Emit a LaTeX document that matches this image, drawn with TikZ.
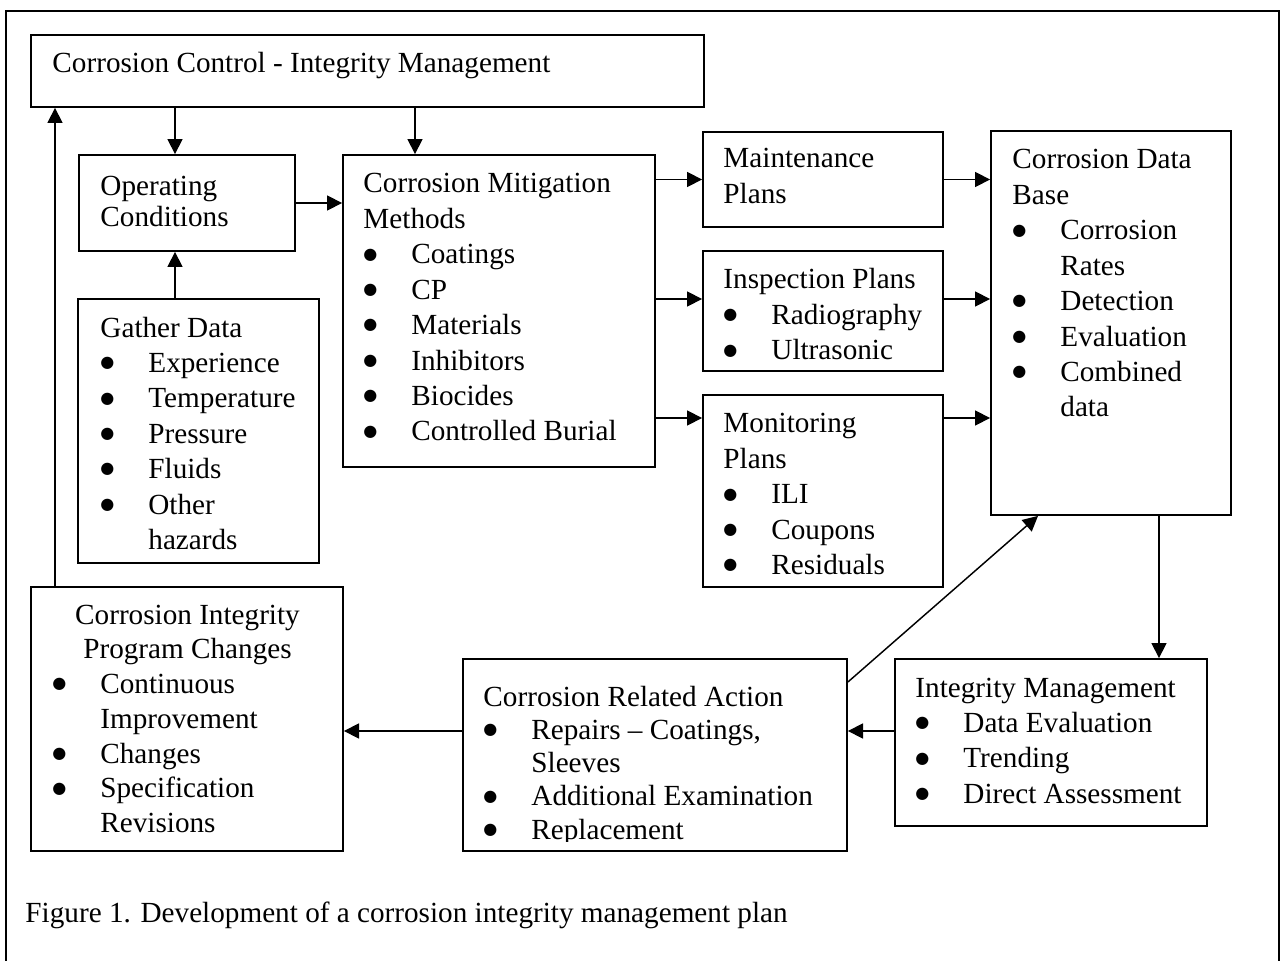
\documentclass[tikz,border=0pt]{standalone}
\usepackage{fontspec}
\setmainfont{Liberation Serif}
\newfontfamily\symfont{DejaVu Sans}
\usetikzlibrary{arrows.meta,fit}

% one drawing unit
\newlength\pxu
\setlength\pxu{0.411pt}
% bullet indent
\newlength\bind
\setlength\bind{19.7pt}
\newcommand\bmark{\raisebox{1.9pt}{\symfont\fontsize{6.6pt}{6.6pt}\selectfont ●}}
\newcommand\bitem[1]{\makebox[\bind][l]{\bmark}#1}
\newcommand\citem[1]{\hspace*{\bind}#1}

\begin{document}
\begin{tikzpicture}[x=\pxu, y=-\pxu,
  font=\fontsize{12pt}{14.55pt}\selectfont,
  box/.style={draw, line width=0.75pt, inner sep=0pt, rectangle},
  txt/.style={anchor=base west, inner sep=0pt, align=flush left, text width=220pt},
  arr/.style={-{Triangle[length=6.2pt,width=6.2pt]}, line width=0.6pt}]

\useasboundingbox (0,0) rectangle (1283,961);

% outer frame
\draw[line width=0.7pt] (6,961) -- (6,11) -- (1279,11) -- (1279,961);

% boxes
\node[box, fit={(31,35) (704,107)}] (top) {};
\node[box, fit={(79,155) (295,251)}] (opc) {};
\node[box, fit={(78,299) (319,563)}] (gd) {};
\node[box, fit={(343,155) (655,467)}] (cmm) {};
\node[box, fit={(703,132) (943,227)}] (mp) {};
\node[box, fit={(703,251) (943,371)}] (ip) {};
\node[box, fit={(703,395) (943,587)}] (mon) {};
\node[box, fit={(991,131) (1231,515)}] (cdb) {};
\node[box, fit={(895,659) (1207,826)}] (im) {};
\node[box, fit={(463,659) (847,851)}] (cra) {};
\node[box, fit={(31,587) (343,851)}] (cipc) {};

% box texts
\node[txt] (ttop) at (52,73) {Corrosion Control - Integrity Management};
\node[txt, font=\fontsize{12pt}{12.74pt}\selectfont] (topc) at (100,196) {Operating\\Conditions};
\node[txt] (tgd) at (100,337) {Gather Data\\
  \bitem{Experience}\\ \bitem{Temperature}\\ \bitem{Pressure}\\
  \bitem{Fluids}\\ \bitem{Other}\\ \citem{hazards}};
\node[txt] (tcmm) at (363,193) {Corrosion Mitigation\\Methods\\
  \bitem{Coatings}\\ \bitem{CP}\\ \bitem{Materials}\\ \bitem{Inhibitors}\\
  \bitem{Biocides}\\ \bitem{Controlled Burial}};
\node[txt] (tmp) at (723,168) {Maintenance\\Plans};
\node[txt] (tip) at (723,289) {Inspection Plans\\
  \bitem{Radiography}\\ \bitem{Ultrasonic}};
\node[txt] (tmon) at (723,433) {Monitoring\\Plans\\
  \bitem{ILI}\\ \bitem{Coupons}\\ \bitem{Residuals}};
\node[txt] (tcdb) at (1012,169) {Corrosion Data\\Base\\
  \bitem{Corrosion}\\ \citem{Rates}\\ \bitem{Detection}\\ \bitem{Evaluation}\\
  \bitem{Combined}\\ \citem{data}};
\node[txt] (tim) at (915,697) {Integrity Management\\
  \bitem{Data Evaluation}\\ \bitem{Trending}\\ \bitem{Direct Assessment}};
\begin{scope}
  \clip (463,659) rectangle (847,841);
  \node[txt, font=\fontsize{12pt}{13.69pt}\selectfont] (tcra) at (483,706) {Corrosion Related Action\\
    \bitem{Repairs – Coatings,}\\ \citem{Sleeves}\\
    \bitem{Additional Examination}\\ \bitem{Replacement}};
\end{scope}
\node[txt, text width=111pt, font=\fontsize{12pt}{14.3pt}\selectfont] (tcipc) at (52,624) {%
  \makebox[\linewidth]{Corrosion Integrity}\\
  \makebox[\linewidth]{Program Changes}\\
  \bitem{Continuous}\\ \citem{Improvement}\\ \bitem{Changes}\\
  \bitem{Specification}\\ \citem{Revisions}};

% caption
\node[anchor=base west, inner sep=0pt] (cap) at (25,922) {Figure 1. Development of a corrosion integrity management plan};

% connector positions
\coordinate (xa) at (175,0);
\coordinate (xb) at (415,0);
\coordinate (xc) at (55,0);
\coordinate (xd) at (1159,0);
\coordinate (xe) at (1038,0);
\coordinate (ya) at (0,299);
\coordinate (yb) at (0,418);
\coordinate (yc) at (0,731);
\coordinate (yd) at (0,682);

% connectors
\draw[arr] (top.south -| xa) -- (opc.north -| xa);
\draw[arr] (top.south -| xb) -- (cmm.north -| xb);
\draw[arr] (opc.east) -- (cmm.west |- opc.east);
\draw[arr] (gd.north -| xa) -- (opc.south -| xa);
\draw[arr] (cmm.east |- mp.west) -- (mp.west);
\draw[arr] (cmm.east |- ya) -- (ip.west |- ya);
\draw[arr] (cmm.east |- yb) -- (mon.west |- yb);
\draw[arr] (mp.east) -- (cdb.west |- mp.east);
\draw[arr] (ip.east |- ya) -- (cdb.west |- ya);
\draw[arr] (mon.east |- yb) -- (cdb.west |- yb);
\draw[arr] (cdb.south -| xd) -- (im.north -| xd);
\draw[arr] (im.west |- yc) -- (cra.east |- yc);
\draw[arr] (cra.west |- yc) -- (cipc.east |- yc);
\draw[arr] (cra.east |- yd) -- (cdb.south -| xe);
\draw[arr] (cipc.north -| xc) -- (top.south -| xc);

\end{tikzpicture}
\end{document}
